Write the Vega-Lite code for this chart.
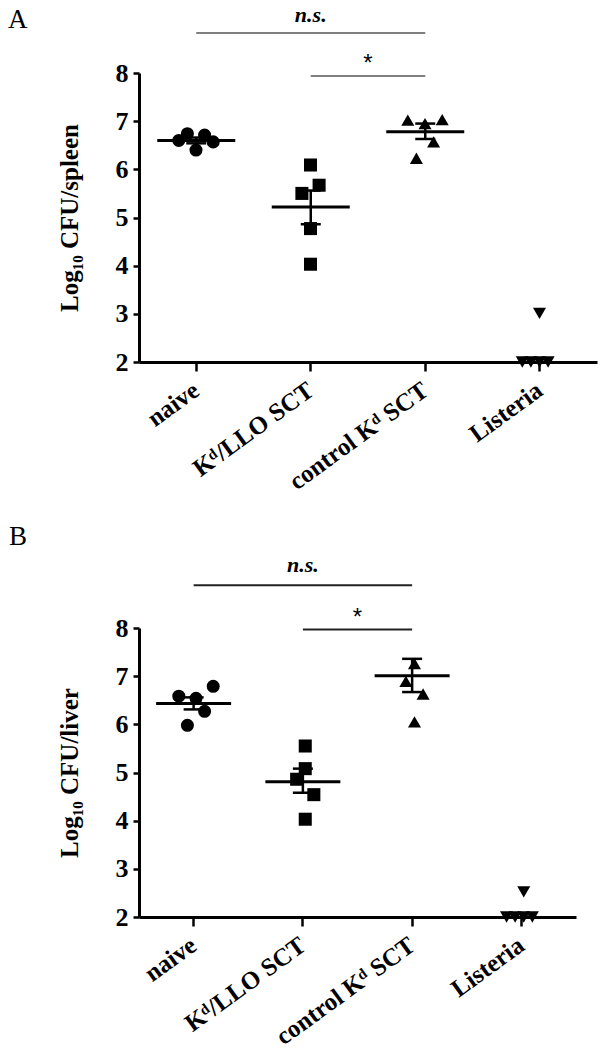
{
  "$schema": "https://vega.github.io/schema/vega-lite/v6.json",
  "padding": {"left": 8, "top": 4, "right": 6, "bottom": 0},
  "background": "white",
  "spacing": 27,
  "config": {
    "view": {"stroke": null},
    "font": "Liberation Serif",
    "axis": {
      "domainColor": "black", "domainWidth": 3, "tickColor": "black", "tickWidth": 2.5,
      "labelColor": "black", "labelFont": "Liberation Serif", "labelFontWeight": "bold",
      "titleFont": "Liberation Serif", "titleFontWeight": "bold", "titleColor": "black", "grid": false
    }
  },
  "datasets": {
    "points": [
      {"panel": "A", "group": "naive", "slot": -2, "value": 6.60},
      {"panel": "A", "group": "naive", "slot": -1, "value": 6.74},
      {"panel": "A", "group": "naive", "slot": 0, "value": 6.40},
      {"panel": "A", "group": "naive", "slot": 1, "value": 6.71},
      {"panel": "A", "group": "naive", "slot": 2, "value": 6.57},
      {"panel": "A", "group": "Kᵈ/LLO SCT", "slot": -1, "value": 5.50},
      {"panel": "A", "group": "Kᵈ/LLO SCT", "slot": 0, "value": 6.09},
      {"panel": "A", "group": "Kᵈ/LLO SCT", "slot": 1, "value": 5.67},
      {"panel": "A", "group": "Kᵈ/LLO SCT", "slot": 0, "value": 4.77},
      {"panel": "A", "group": "Kᵈ/LLO SCT", "slot": 0, "value": 4.03},
      {"panel": "A", "group": "control Kᵈ SCT", "slot": -2, "value": 7.02},
      {"panel": "A", "group": "control Kᵈ SCT", "slot": 0, "value": 6.95},
      {"panel": "A", "group": "control Kᵈ SCT", "slot": 2, "value": 7.03},
      {"panel": "A", "group": "control Kᵈ SCT", "slot": 1, "value": 6.57},
      {"panel": "A", "group": "control Kᵈ SCT", "slot": -1, "value": 6.23},
      {"panel": "A", "group": "Listeria", "slot": 0, "value": 3.01},
      {"panel": "A", "group": "Listeria", "slot": -2, "value": 2.0},
      {"panel": "A", "group": "Listeria", "slot": -1, "value": 2.0},
      {"panel": "A", "group": "Listeria", "slot": 0, "value": 2.0},
      {"panel": "A", "group": "Listeria", "slot": 1, "value": 2.0},
      {"panel": "B", "group": "naive", "slot": -2, "value": 6.585},
      {"panel": "B", "group": "naive", "slot": 0, "value": 6.54},
      {"panel": "B", "group": "naive", "slot": 2, "value": 6.79},
      {"panel": "B", "group": "naive", "slot": 1, "value": 6.27},
      {"panel": "B", "group": "naive", "slot": -1, "value": 5.98},
      {"panel": "B", "group": "Kᵈ/LLO SCT", "slot": 0, "value": 5.55},
      {"panel": "B", "group": "Kᵈ/LLO SCT", "slot": 0, "value": 5.08},
      {"panel": "B", "group": "Kᵈ/LLO SCT", "slot": -1, "value": 4.86},
      {"panel": "B", "group": "Kᵈ/LLO SCT", "slot": 1, "value": 4.54},
      {"panel": "B", "group": "Kᵈ/LLO SCT", "slot": 0, "value": 4.03},
      {"panel": "B", "group": "control Kᵈ SCT", "slot": 0, "value": 7.26},
      {"panel": "B", "group": "control Kᵈ SCT", "slot": -1, "value": 6.89},
      {"panel": "B", "group": "control Kᵈ SCT", "slot": 1, "value": 6.63},
      {"panel": "B", "group": "control Kᵈ SCT", "slot": 0, "value": 6.05},
      {"panel": "B", "group": "Listeria", "slot": 0, "value": 2.52},
      {"panel": "B", "group": "Listeria", "slot": -2, "value": 2.0},
      {"panel": "B", "group": "Listeria", "slot": -1, "value": 2.0},
      {"panel": "B", "group": "Listeria", "slot": 0, "value": 2.0},
      {"panel": "B", "group": "Listeria", "slot": 1, "value": 2.0}
    ],
    "summary": [
      {"panel": "A", "group": "naive", "mean": 6.60, "lo": 6.54, "hi": 6.66},
      {"panel": "A", "group": "Kᵈ/LLO SCT", "mean": 5.22, "lo": 4.86, "hi": 5.56},
      {"panel": "A", "group": "control Kᵈ SCT", "mean": 6.78, "lo": 6.63, "hi": 6.95},
      {"panel": "B", "group": "naive", "mean": 6.43, "lo": 6.31, "hi": 6.56},
      {"panel": "B", "group": "Kᵈ/LLO SCT", "mean": 4.81, "lo": 4.58, "hi": 5.08},
      {"panel": "B", "group": "control Kᵈ SCT", "mean": 7.01, "lo": 6.67, "hi": 7.36}
    ],
    "sig": [
      {"panel": "A", "label": "n.s.", "from": "naive", "to": "control Kᵈ SCT", "y": 8.83, "textx": "Kᵈ/LLO SCT", "ty": 9.2},
      {"panel": "A", "label": "*", "from": "Kᵈ/LLO SCT", "to": "control Kᵈ SCT", "y": 7.94, "textx": "Kᵈ/LLO SCT", "ty": 8.18},
      {"panel": "B", "label": "n.s.", "from": "naive", "to": "control Kᵈ SCT", "y": 8.89, "textx": "Kᵈ/LLO SCT", "ty": 9.31},
      {"panel": "B", "label": "*", "from": "Kᵈ/LLO SCT", "to": "control Kᵈ SCT", "y": 7.97, "textx": "Kᵈ/LLO SCT", "ty": 8.2}
    ]
  },
  "vconcat": [
    {
      "width": 458, "height": 289,
      "title": {"text": "A", "anchor": "start", "frame": "group", "dx": -131, "offset": -51, "baseline": "alphabetic", "fontSize": 27, "fontWeight": "normal", "font": "Liberation Serif", "color": "black"},
      "layer": [
        {
          "data": {"name": "points"},
          "transform": [{"filter": "datum.panel === 'A'"}],
          "mark": {"type": "point", "filled": true, "opacity": 1, "color": "black", "size": 170},
          "encoding": {
            "x": {"field": "group", "type": "nominal", "sort": null,
                  "scale": {"type": "band", "domain": ["naive", "Kᵈ/LLO SCT", "control Kᵈ SCT", "Listeria"], "paddingInner": 0, "paddingOuter": 0},
                  "axis": {"title": null, "labelAngle": -36, "labelAlign": "right", "labelBaseline": "middle", "labelFontSize": 25, "labelPadding": 16, "tickSize": 9, "labelLimit": 0}},
            "xOffset": {"field": "slot", "type": "ordinal", "scale": {"type": "point", "domain": [-2, -1, 0, 1, 2], "range": [35.5, 78.5]}},
            "y": {"field": "value", "type": "quantitative",
                  "scale": {"domain": [2, 8], "nice": false, "zero": false},
                  "axis": {"title": "Log₁₀ CFU/spleen", "values": [2, 3, 4, 5, 6, 7, 8], "format": "d", "tickSize": 6, "labelPadding": 5, "labelFontSize": 26, "titleFontSize": 25, "titlePadding": 33}},
            "shape": {"field": "group", "type": "nominal",
                      "scale": {"domain": ["naive", "Kᵈ/LLO SCT", "control Kᵈ SCT", "Listeria"], "range": ["circle", "square", "triangle-up", "triangle-down"]}, "legend": null}
          }
        },
        {
          "data": {"name": "summary"},
          "transform": [{"filter": "datum.panel === 'A'"}],
          "mark": {"type": "tick", "size": 78, "thickness": 3, "color": "black", "opacity": 1},
          "encoding": {"x": {"field": "group", "type": "nominal", "sort": null}, "y": {"field": "mean", "type": "quantitative"}}
        },
        {
          "data": {"name": "summary"},
          "transform": [{"filter": "datum.panel === 'A'"}],
          "mark": {"type": "rule", "strokeWidth": 2.5, "color": "black"},
          "encoding": {"x": {"field": "group", "type": "nominal", "sort": null}, "y": {"field": "lo", "type": "quantitative"}, "y2": {"field": "hi"}}
        },
        {
          "data": {"name": "summary"},
          "transform": [{"filter": "datum.panel === 'A'"}],
          "mark": {"type": "tick", "size": 20, "thickness": 2.5, "color": "black", "opacity": 1},
          "encoding": {"x": {"field": "group", "type": "nominal", "sort": null}, "y": {"field": "lo", "type": "quantitative"}}
        },
        {
          "data": {"name": "summary"},
          "transform": [{"filter": "datum.panel === 'A'"}],
          "mark": {"type": "tick", "size": 20, "thickness": 2.5, "color": "black", "opacity": 1},
          "encoding": {"x": {"field": "group", "type": "nominal", "sort": null}, "y": {"field": "hi", "type": "quantitative"}}
        },
        {
          "data": {"name": "sig"},
          "transform": [{"filter": "datum.panel === 'A'"}],
          "mark": {"type": "rule", "strokeWidth": 1.5, "color": "#555555"},
          "encoding": {"x": {"field": "from", "type": "nominal", "sort": null}, "x2": {"field": "to"}, "y": {"field": "y", "type": "quantitative"}}
        },
        {
          "data": {"name": "sig"},
          "transform": [{"filter": "datum.panel === 'A' && datum.label === 'n.s.'"}],
          "mark": {"type": "text", "font": "Liberation Serif", "fontWeight": "bold", "fontStyle": "italic", "fontSize": 22, "baseline": "middle", "color": "black"},
          "encoding": {"x": {"field": "textx", "type": "nominal", "sort": null}, "y": {"field": "ty", "type": "quantitative"}, "text": {"field": "label"}}
        },
        {
          "data": {"name": "sig"},
          "transform": [{"filter": "datum.panel === 'A' && datum.label === '*'"}],
          "mark": {"type": "text", "font": "Liberation Sans", "fontSize": 24, "baseline": "middle", "color": "black"},
          "encoding": {"x": {"field": "textx", "type": "nominal", "sort": null, "bandPosition": 1}, "y": {"field": "ty", "type": "quantitative"}, "text": {"field": "label"}}
        }
      ]
    },
    {
      "width": 437, "height": 289,
      "title": {"text": "B", "anchor": "start", "frame": "group", "dx": -130, "offset": -18, "baseline": "alphabetic", "fontSize": 27, "fontWeight": "normal", "font": "Liberation Serif", "color": "black"},
      "layer": [
        {
          "data": {"name": "points"},
          "transform": [{"filter": "datum.panel === 'B'"}],
          "mark": {"type": "point", "filled": true, "opacity": 1, "color": "black", "size": 170},
          "encoding": {
            "x": {"field": "group", "type": "nominal", "sort": null,
                  "scale": {"type": "band", "domain": ["naive", "Kᵈ/LLO SCT", "control Kᵈ SCT", "Listeria"], "paddingInner": 0, "paddingOuter": 0},
                  "axis": {"title": null, "labelAngle": -36, "labelAlign": "right", "labelBaseline": "middle", "labelFontSize": 25, "labelPadding": 16, "tickSize": 9, "labelLimit": 0}},
            "xOffset": {"field": "slot", "type": "ordinal", "scale": {"type": "point", "domain": [-2, -1, 0, 1, 2], "range": [32.6, 76.6]}},
            "y": {"field": "value", "type": "quantitative",
                  "scale": {"domain": [2, 8], "nice": false, "zero": false},
                  "axis": {"title": "Log₁₀ CFU/liver", "values": [2, 3, 4, 5, 6, 7, 8], "format": "d", "tickSize": 6, "labelPadding": 5, "labelFontSize": 26, "titleFontSize": 25, "titlePadding": 33}},
            "shape": {"field": "group", "type": "nominal",
                      "scale": {"domain": ["naive", "Kᵈ/LLO SCT", "control Kᵈ SCT", "Listeria"], "range": ["circle", "square", "triangle-up", "triangle-down"]}, "legend": null}
          }
        },
        {
          "data": {"name": "summary"},
          "transform": [{"filter": "datum.panel === 'B'"}],
          "mark": {"type": "tick", "size": 75, "thickness": 3, "color": "black", "opacity": 1},
          "encoding": {"x": {"field": "group", "type": "nominal", "sort": null}, "y": {"field": "mean", "type": "quantitative"}}
        },
        {
          "data": {"name": "summary"},
          "transform": [{"filter": "datum.panel === 'B'"}],
          "mark": {"type": "rule", "strokeWidth": 2.5, "color": "black"},
          "encoding": {"x": {"field": "group", "type": "nominal", "sort": null}, "y": {"field": "lo", "type": "quantitative"}, "y2": {"field": "hi"}}
        },
        {
          "data": {"name": "summary"},
          "transform": [{"filter": "datum.panel === 'B'"}],
          "mark": {"type": "tick", "size": 20, "thickness": 2.5, "color": "black", "opacity": 1},
          "encoding": {"x": {"field": "group", "type": "nominal", "sort": null}, "y": {"field": "lo", "type": "quantitative"}}
        },
        {
          "data": {"name": "summary"},
          "transform": [{"filter": "datum.panel === 'B'"}],
          "mark": {"type": "tick", "size": 20, "thickness": 2.5, "color": "black", "opacity": 1},
          "encoding": {"x": {"field": "group", "type": "nominal", "sort": null}, "y": {"field": "hi", "type": "quantitative"}}
        },
        {
          "data": {"name": "sig"},
          "transform": [{"filter": "datum.panel === 'B'"}],
          "mark": {"type": "rule", "strokeWidth": 2, "color": "#222222"},
          "encoding": {"x": {"field": "from", "type": "nominal", "sort": null}, "x2": {"field": "to"}, "y": {"field": "y", "type": "quantitative"}}
        },
        {
          "data": {"name": "sig"},
          "transform": [{"filter": "datum.panel === 'B' && datum.label === 'n.s.'"}],
          "mark": {"type": "text", "font": "Liberation Serif", "fontWeight": "bold", "fontStyle": "italic", "fontSize": 22, "baseline": "middle", "color": "black"},
          "encoding": {"x": {"field": "textx", "type": "nominal", "sort": null}, "y": {"field": "ty", "type": "quantitative"}, "text": {"field": "label"}}
        },
        {
          "data": {"name": "sig"},
          "transform": [{"filter": "datum.panel === 'B' && datum.label === '*'"}],
          "mark": {"type": "text", "font": "Liberation Sans", "fontSize": 24, "baseline": "middle", "color": "black"},
          "encoding": {"x": {"field": "textx", "type": "nominal", "sort": null, "bandPosition": 1}, "y": {"field": "ty", "type": "quantitative"}, "text": {"field": "label"}}
        }
      ]
    }
  ]
}
